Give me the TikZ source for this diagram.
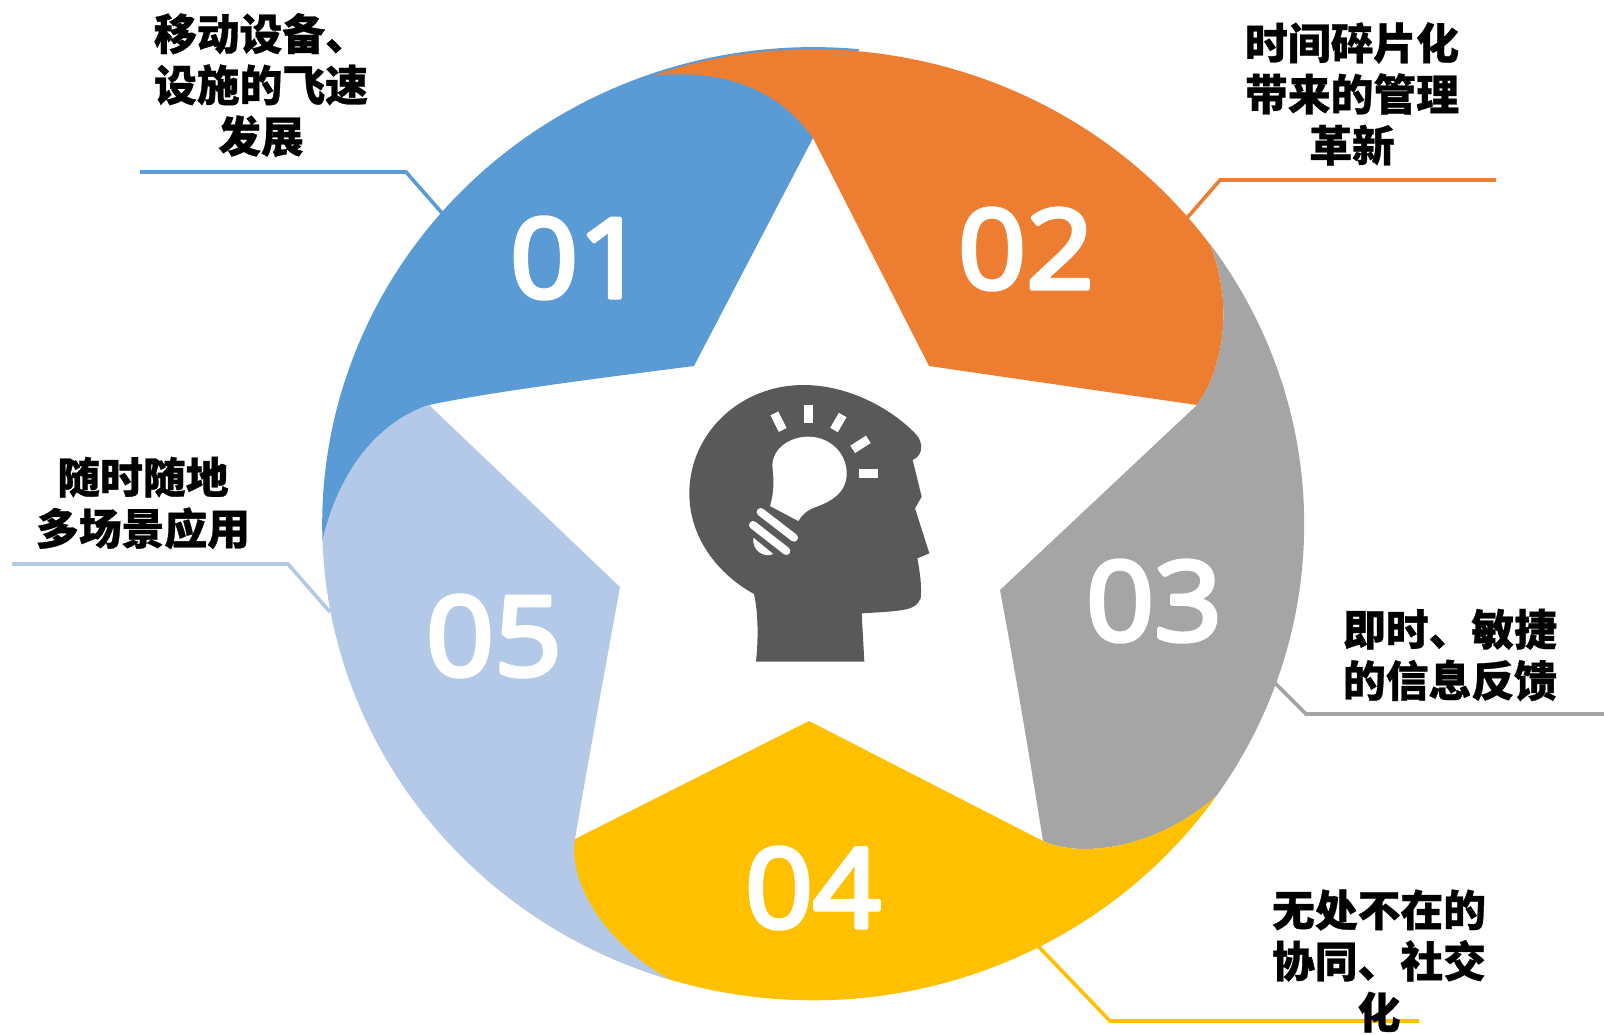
\documentclass[tikz,border=0pt]{standalone}
\usepackage{fontspec}
\newfontfamily\cjk{Noto Sans CJK SC}[BoldFeatures={FakeBold=0.7}]
\newfontfamily\numfont{Open Sans}[FakeStretch=1.08]
\newcommand{\fatnum}[1]{\special{pdf:code q 2 Tr 2.3 w 1 j 1 J 1 1 1 RG}#1\special{pdf:code Q}}
\usetikzlibrary{positioning}
\tikzset{
  lbl/.style={font=\cjk\bfseries\fontsize{21.4pt}{25.6pt}\selectfont,align=center,text=black,inner sep=0pt},
  num/.style={font=\numfont\fontsize{55pt}{55pt}\selectfont,text=white,inner sep=0pt},
  leader/.style={line width=1.8pt,line join=miter},
  ray/.style={line width=4.4pt,white},
  base/.style={line width=4pt,white,line cap=round},
  radii/.style={x radius=245.5pt,y radius=238pt}
}
\definecolor{cblue}{HTML}{5B9BD5}
\definecolor{corange}{HTML}{ED7D31}
\definecolor{cgray}{HTML}{A5A5A5}
\definecolor{cyellow}{HTML}{FFC000}
\definecolor{clight}{HTML}{B4C9E7}
\definecolor{chead}{HTML}{595959}
\begin{document}
\begin{tikzpicture}[x=0.5pt,y=-0.5pt]
    \useasboundingbox (0,0) rectangle (1604,1034);
    \coordinate (c) at (813.2,524.3);
    \coordinate (s_top) at (813,138);
    \coordinate (s_1) at (929,366);
    \coordinate (s_2) at (1197,405);
    \coordinate (s_3) at (1000,590);
    \coordinate (s_4) at (1043,841);
    \coordinate (s_5) at (809,721);
    \coordinate (s_6) at (575,839);
    \coordinate (s_7) at (620,587);
    \coordinate (s_8) at (429,405);
    \coordinate (s_9) at (694,366);
    \path (c) ++(182:245.5pt and 238pt) coordinate (a_1);
    \path (c) ++(109:245.5pt and 237.5pt) coordinate (a_2);
    \path (c) ++(36:245.5pt and 238pt) coordinate (a_3);
    \path (c) ++(-34.8:245.5pt and 238pt) coordinate (a_4);
    \path (c) ++(-107:245.5pt and 238pt) coordinate (a_5);
    % leaders
    \coordinate (l_1a) at (442,213); \coordinate (l_1b) at (406,172); \coordinate (l_1c) at (140,172);
    \coordinate (l_2a) at (1187,218); \coordinate (l_2b) at (1220,180); \coordinate (l_2c) at (1496,180);
    \coordinate (l_3a) at (1274,682); \coordinate (l_3b) at (1306,714); \coordinate (l_3c) at (1604,714);
    \coordinate (l_4a) at (1038,946); \coordinate (l_4b) at (1110,1021); \coordinate (l_4c) at (1419,1021);
    \coordinate (l_5a) at (330,612); \coordinate (l_5b) at (288,564); \coordinate (l_5c) at (12,564);
    \draw[leader,cblue] (l_1a) -- (l_1b) -- (l_1c);
    \draw[leader,corange] (l_2a) -- (l_2b) -- (l_2c);
    \draw[leader,cgray] (l_3a) -- (l_3b) -- (l_3c);
    \draw[leader,cyellow] (l_4a) -- (l_4b) -- (l_4c);
    \draw[leader,clight] (l_5a) -- (l_5b) -- (l_5c);
    % petals
    \fill[cblue] (a_1) arc[x radius=245.5pt,y radius=238.6pt,start angle=182,end angle=84.6] -- (s_top) -- (s_9)
      .. controls (600,378) and (490,392) .. (s_8) .. controls (370,425) and (336,482) .. (a_1) -- cycle;
    \fill[corange] (a_2) arc[x radius=245.5pt,y radius=237.5pt,start angle=109,end angle=36]
      .. controls (1232,300) and (1226,365) .. (s_2) -- (s_1) -- (s_top)
      .. controls (775,85) and (720,70) .. (a_2) -- cycle;
    \fill[cgray] (a_3) arc[radii,start angle=36,end angle=-34.8]
      .. controls (1155,850) and (1080,858) .. (s_4) .. controls (1030,760) and (1015,670) .. (s_3) -- (s_2)
      .. controls (1226,365) and (1232,300) .. (a_3) -- cycle;
    \fill[cyellow] (a_4) arc[radii,start angle=-34.8,end angle=-131.8] -- (s_6) -- (s_5) -- (s_4)
      .. controls (1080,858) and (1155,850) .. (a_4) -- cycle;
    \fill[clight] (a_5) arc[radii,start angle=-107,end angle=-178]
      .. controls (336,482) and (370,425) .. (s_8) -- (s_7) .. controls (605,670) and (590,750) .. (s_6)
      .. controls (568,885) and (607,945) .. (a_5) -- cycle;
    % numbers
    \node[num] (n_1) at (578,258) {\fatnum{01}};
    \node[num] (n_2) at (1026,249) {\fatnum{02}};
    \node[num] (n_3) at (1154,601) {\fatnum{03}};
    \node[num] (n_4) at (813,888) {\fatnum{04}};
    \node[num] (n_5) at (494,636) {\fatnum{05}};
    % labels
    \node[lbl] (t_1) at (261,85) {移动设备、\\设施的飞速\\发展};
    \node[lbl] (t_2) at (1352,94) {时间碎片化\\带来的管理\\革新};
    \node[lbl] (t_3) at (1450,655) {即时、敏捷\\的信息反馈};
    \node[lbl] (t_4) at (1379,961) {无处不在的\\协同、社交\\化};
    \node[lbl] (t_5) at (143,503) {随时随地\\多场景应用};
    % head
    \begin{scope}[shift={(660,370)},x=0.16667pt,y=-0.16667pt]
      \fill[chead] (288,875) .. controls (295,810) and (295,730) .. (282,672)
        .. controls (170,610) and (88,500) .. (88,370)
        .. controls (88,190) and (240,45) .. (430,45)
        .. controls (570,45) and (700,120) .. (770,195)
        .. controls (790,220) and (790,255) .. (758,270)
        -- (785,380) -- (765,415) -- (808,550) -- (772,565)
        .. controls (782,620) and (785,650) .. (782,685)
        .. controls (765,720) and (745,722) .. (605,730)
        -- (613,875) -- cycle;
      \fill[white] (330,408) .. controls (345,360) and (340,320) .. (337,285)
        .. controls (340,230) and (395,200) .. (445,200)
        .. controls (510,200) and (560,250) .. (560,310)
        .. controls (560,370) and (510,395) .. (470,410)
        .. controls (440,420) and (425,435) .. (415,453) -- cycle;
      \draw[base] (302,426) -- (402,503);
      \draw[base] (279,465) -- (379,543);
      \fill[white] (280,503) .. controls (275,540) and (310,565) .. (340,552) -- cycle;
      \draw[ray] (343,130) -- (368,180);
      \draw[ray] (445,104) -- (445,160);
      \draw[ray] (548,135) -- (522,180);
      \draw[ray] (625,208) -- (578,238);
      \draw[ray] (596,310) -- (655,310);
    \end{scope}
\end{tikzpicture}
\end{document}
